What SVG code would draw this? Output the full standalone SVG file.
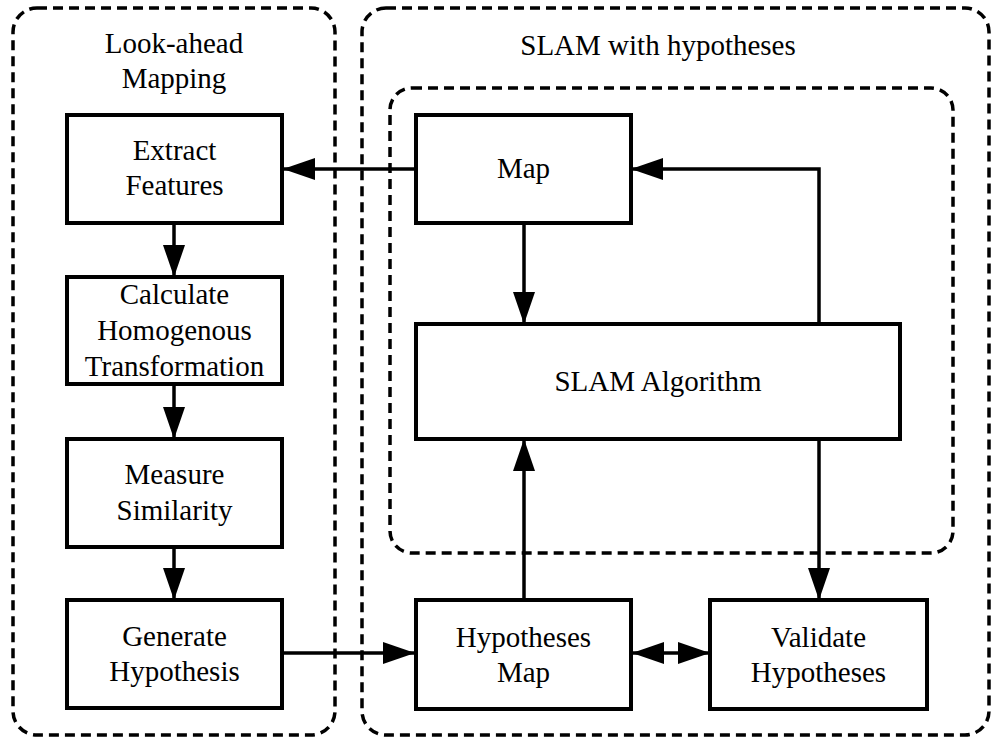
<svg xmlns="http://www.w3.org/2000/svg" width="992" height="740" viewBox="0 0 992 740">
<style>
.grp{fill:none;stroke:#000;stroke-width:3.5;stroke-dasharray:10 6}
.box{fill:#fff;stroke:#000;stroke-width:4}
.t{font-family:"Liberation Serif","Times New Roman",serif;font-size:29px;fill:#000;text-anchor:middle}
.c{fill:none;stroke:#000;stroke-width:3.5}
</style>
<defs>
<marker id="ah" markerUnits="userSpaceOnUse" markerWidth="32" markerHeight="22" refX="32" refY="11" orient="auto-start-reverse">
<path d="M0,0 L32,11 L0,22 Z" fill="#000"/>
</marker>
</defs>
<rect width="992" height="740" fill="#fff"/>
<g id="group-lookahead">
<rect class="grp" x="13" y="8" width="322" height="727" rx="24"/>
<text class="t" x="174" y="53">Look-ahead</text>
<text class="t" x="174" y="88">Mapping</text>
</g>
<g id="group-slam">
<rect class="grp" x="362" y="8" width="627" height="727" rx="24"/>
<text class="t" x="658" y="55">SLAM with hypotheses</text>
</g>
<g id="group-inner">
<rect class="grp" x="390" y="88" width="563" height="465" rx="22"/>
</g>
<g id="connectors">
<line class="c" x1="416" y1="169" x2="283" y2="169" marker-end="url(#ah)"/>
<line class="c" x1="524" y1="223" x2="524" y2="324" marker-end="url(#ah)"/>
<polyline class="c" points="819,324 819,169 631,169" marker-end="url(#ah)"/>
<line class="c" x1="524" y1="600" x2="524" y2="439" marker-end="url(#ah)"/>
<line class="c" x1="819" y1="439" x2="819" y2="600" marker-end="url(#ah)"/>
<line class="c" x1="632" y1="653" x2="710" y2="653" marker-start="url(#ah)" marker-end="url(#ah)"/>
<line class="c" x1="283" y1="653" x2="415" y2="653" marker-end="url(#ah)"/>
<line class="c" x1="174" y1="223" x2="174" y2="277" marker-end="url(#ah)"/>
<line class="c" x1="174" y1="384" x2="174" y2="439" marker-end="url(#ah)"/>
<line class="c" x1="174" y1="547" x2="174" y2="600" marker-end="url(#ah)"/>
</g>
<g id="node-extract">
<rect class="box" x="67" y="115" width="215" height="108"/>
<text class="t" x="174.5" y="160">Extract</text>
<text class="t" x="174.5" y="195">Features</text>
</g>
<g id="node-calculate">
<rect class="box" x="67" y="277" width="215" height="107"/>
<text class="t" x="174.5" y="304">Calculate</text>
<text class="t" x="174.5" y="340">Homogenous</text>
<text class="t" x="174.5" y="376">Transformation</text>
</g>
<g id="node-measure">
<rect class="box" x="67" y="439" width="215" height="108"/>
<text class="t" x="174.5" y="484">Measure</text>
<text class="t" x="174.5" y="520">Similarity</text>
</g>
<g id="node-generate">
<rect class="box" x="67" y="600" width="215" height="108"/>
<text class="t" x="174.5" y="646">Generate</text>
<text class="t" x="174.5" y="681">Hypothesis</text>
</g>
<g id="node-map">
<rect class="box" x="416" y="115" width="215" height="108"/>
<text class="t" x="523.5" y="178">Map</text>
</g>
<g id="node-slam">
<rect class="box" x="416" y="324" width="484" height="115"/>
<text class="t" x="658" y="391">SLAM Algorithm</text>
</g>
<g id="node-hypmap">
<rect class="box" x="416" y="600" width="215" height="109"/>
<text class="t" x="523.5" y="647">Hypotheses</text>
<text class="t" x="523.5" y="682">Map</text>
</g>
<g id="node-validate">
<rect class="box" x="710" y="600" width="217" height="109"/>
<text class="t" x="818.5" y="647">Validate</text>
<text class="t" x="818.5" y="682">Hypotheses</text>
</g>
</svg>
